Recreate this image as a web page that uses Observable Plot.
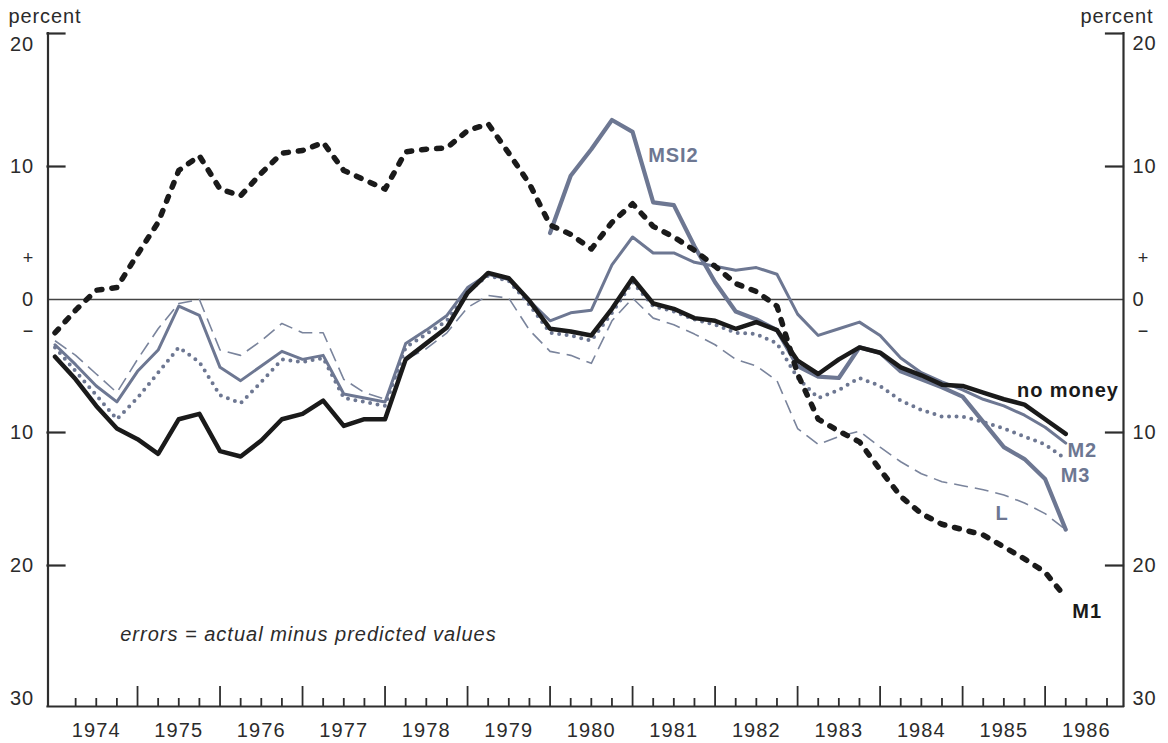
<!DOCTYPE html>
<html><head><meta charset="utf-8">
<script src="https://cdn.jsdelivr.net/npm/d3@7"></script>
<script src="https://cdn.jsdelivr.net/npm/@observablehq/plot@0.6"></script>
<style>
html,body{margin:0;padding:0;background:#fff;}
#chart svg text{letter-spacing:0.9px;}
#chart svg g[aria-description="caption"] text{letter-spacing:1.0px;}
#chart svg g[aria-description="years"] text{letter-spacing:1.1px;}
</style></head><body><div id="chart"></div>
<script>
// ---- data (quarterly errors, percent; actual minus predicted) ----
const quarters = d3.range(50).map(k => 1974 + k / 4); // 1974Q1 ... 1986Q2
const noMoney = [-4.3,-6.0,-8.0,-9.7,-10.5,-11.6,-9.0,-8.6,-11.4,-11.8,
  -10.6,-9.0,-8.6,-7.6,-9.5,-9.0,-9.0,-4.5,-3.3,-2.1,
  0.5,2.0,1.6,-0.1,-2.2,-2.4,-2.7,-0.7,1.6,-0.3,
  -0.7,-1.4,-1.6,-2.2,-1.7,-2.3,-4.6,-5.6,-4.5,-3.6,
  -4.0,-5.1,-5.7,-6.4,-6.5,-7.0,-7.5,-7.9,-9.0,-10.1];
const m1 = [-2.5,-0.8,0.7,0.9,3.4,5.8,9.7,10.8,8.3,7.8,
  9.5,11.0,11.2,11.8,9.7,9.0,8.3,11.1,11.3,11.4,
  12.7,13.2,11.0,8.7,5.6,4.9,3.8,5.8,7.2,5.5,
  4.7,3.7,2.5,1.2,0.6,-0.5,-5.6,-9.0,-9.9,-10.7,
  -12.8,-14.8,-16.1,-16.9,-17.3,-17.7,-18.6,-19.5,-20.5,-22.4];
const m2 = [-3.4,-4.9,-6.5,-7.7,-5.4,-3.8,-0.5,-1.2,-5.1,-6.1,
  -5.0,-3.9,-4.5,-4.2,-7.1,-7.4,-7.7,-3.3,-2.3,-1.2,
  0.9,1.9,1.5,-0.1,-1.6,-1.0,-0.8,2.6,4.7,3.5,
  3.5,2.8,2.5,2.2,2.4,1.9,-1.1,-2.7,-2.2,-1.7,
  -2.7,-4.4,-5.5,-6.2,-6.8,-7.5,-8.0,-8.7,-9.6,-10.8];
const m3 = [-3.6,-5.4,-7.2,-9.0,-7.4,-5.5,-3.6,-4.7,-7.2,-7.8,
  -6.2,-4.5,-4.7,-4.4,-7.4,-7.7,-8.0,-3.6,-2.6,-1.6,
  0.6,1.8,1.4,-0.4,-2.5,-2.7,-3.1,-1.0,1.3,-0.5,
  -0.9,-1.5,-1.9,-2.5,-2.6,-3.3,-5.9,-7.4,-6.8,-5.9,
  -6.5,-7.6,-8.3,-8.8,-8.8,-9.2,-9.7,-10.3,-10.9,-12.0];
const lAgg = [-3.1,-4.2,-5.6,-7.0,-4.5,-2.2,-0.3,0.0,-3.8,-4.2,
  -3.1,-1.8,-2.5,-2.5,-6.0,-7.0,-7.5,-4.5,-3.7,-2.5,
  -0.6,0.3,0.1,-2.3,-3.9,-4.2,-4.8,-1.6,0.1,-1.4,
  -1.9,-2.6,-3.4,-4.5,-5.0,-6.1,-9.7,-10.9,-10.3,-9.9,
  -11.1,-12.2,-13.1,-13.7,-14.0,-14.3,-14.7,-15.3,-16.1,-17.3];
const msi2Start = 24; // 1980Q1
const msi2 = [5.0,9.3,11.3,13.5,12.6,7.3,7.1,4.0,1.3,-0.9,
  -1.5,-2.3,-5.0,-5.8,-5.9,-3.6,-4.0,-5.4,-6.0,-6.6,
  -7.3,-9.2,-11.1,-12.0,-13.5,-17.3];

const yearLabels = [1974,1975,1976,1977,1978,1979,1980,1981,1982,1983,1984,1985,1986];
const majorTicks = [1975,1976,1977,1978,1979,1980,1981,1982,1983,1984,1985,1986];
const minorTicks = d3.range(1, 52).map(k => 1974 + k / 4).filter(t => t % 1 !== 0);
const yTickVals = [20, 10, -10, -20];
const yLabelVals = [10, 0, -10, -20, -30];
const signs = [{v: 3.1, s: "+"}, {v: -2.4, s: "\u2212"}];
const seriesLabels = [
  {name: "MSI2", t: 1981.19, v: 10.8, kind: "gray"},
  {name: "no money", t: 1985.66, v: -6.84, kind: "black"},
  {name: "M2", t: 1986.27, v: -11.35, kind: "gray"},
  {name: "M3", t: 1986.19, v: -13.23, kind: "gray"},
  {name: "L", t: 1985.40, v: -16.1, kind: "gray"},
  {name: "M1", t: 1986.33, v: -23.46, kind: "black"}
];
const caption = [{text: "errors = actual minus predicted values", t: 1974.79, v: -25.2}];

// ---- layout ----
const W = 1168, H = 743;
const mL = 47.5, mR = 45, mT = 33, mB = 37;
const xDomain = [1973.915, 1986.95];
const yDomain = [-30.6, 20];
const pxX = (W - mL - mR) / (xDomain[1] - xDomain[0]);
const pxY = (H - mT - mB) / (yDomain[1] - yDomain[0]);
const gray = "#6d7792", grayL = "#7a849c", black = "#1a1a1a", axisC = "#2e2e2e";

const rows = (vals, start = 0) => vals.map((v, i) => ({t: quarters[start + i], v}));

const chart = Plot.plot({
  width: W, height: H,
  marginLeft: mL, marginRight: mR, marginTop: mT, marginBottom: mB,
  x: {domain: xDomain, axis: null},
  y: {domain: yDomain, axis: null},
  style: {fontFamily: "'Liberation Sans', Arial, sans-serif", fontSize: "20px", color: "#2b2b2b", background: "#fff", overflow: "visible"},
  marks: [
    // zero line
    Plot.ruleY([0], {stroke: "#444", strokeWidth: 1.4}),
    // frame: left, right, bottom
    Plot.ruleX([xDomain[0], xDomain[1]], {y1: yDomain[0], y2: yDomain[1], stroke: axisC, strokeWidth: 2.2, strokeLinecap: "square"}),
    Plot.ruleY([yDomain[0]], {stroke: axisC, strokeWidth: 2.2, strokeLinecap: "square"}),
    // inward y ticks
    Plot.ruleY(yTickVals, {x1: xDomain[0], x2: xDomain[0] + 17 / pxX, stroke: axisC, strokeWidth: 2.2, strokeLinecap: "square"}),
    Plot.ruleY(yTickVals, {x1: xDomain[1] - 17 / pxX, x2: xDomain[1], stroke: axisC, strokeWidth: 2.2, strokeLinecap: "square"}),
    // x ticks
    Plot.ruleX(minorTicks, {y1: yDomain[0], y2: yDomain[0] + 8 / pxY, stroke: axisC, strokeWidth: 1.8}),
    Plot.ruleX(majorTicks, {y1: yDomain[0], y2: yDomain[0] + 20 / pxY, stroke: axisC, strokeWidth: 1.8}),
    // year labels
    Plot.text(yearLabels, {x: d => d + 0.5, y: yDomain[0], dy: 24, text: d => String(d), ariaDescription: "years"}),
    // y labels
    Plot.text([20], {x: xDomain[0], y: d => d, dx: -14, dy: 11, text: d => String(Math.abs(d)), textAnchor: "end"}),
    Plot.text(yLabelVals, {x: xDomain[0], y: d => d, dx: -14, text: d => String(Math.abs(d)), textAnchor: "end"}),
    Plot.text([20], {x: xDomain[1], y: d => d, dx: 9, dy: 10, text: d => String(Math.abs(d)), textAnchor: "start"}),
    Plot.text(yLabelVals, {x: xDomain[1], y: d => d, dx: 9, text: d => String(Math.abs(d)), textAnchor: "start"}),
    Plot.text(signs, {x: xDomain[0], y: "v", text: "s", dx: -19.5, fontSize: 18, textAnchor: "middle"}),
    Plot.text(signs, {x: xDomain[1], y: "v", text: "s", dx: 20, fontSize: 18, textAnchor: "middle"}),
    Plot.text(["percent"], {x: xDomain[0], y: yDomain[1], dx: -39.5, dy: -17, text: d => d, textAnchor: "start"}),
    Plot.text(["percent"], {x: xDomain[1], y: yDomain[1], dx: 30, dy: -17, text: d => d, textAnchor: "end"}),
    // series
    Plot.line(rows(lAgg), {x: "t", y: "v", stroke: grayL, strokeWidth: 1.6, strokeDasharray: "14,7", strokeLinecap: "butt"}),
    Plot.line(rows(m3), {x: "t", y: "v", stroke: gray, strokeWidth: 4, strokeDasharray: "0,7.5", strokeLinecap: "round"}),
    Plot.line(rows(m2), {x: "t", y: "v", stroke: gray, strokeWidth: 3}),
    Plot.line(rows(msi2, msi2Start), {x: "t", y: "v", stroke: gray, strokeWidth: 4.2}),
    Plot.line(rows(m1), {x: "t", y: "v", stroke: black, strokeWidth: 5.5, strokeDasharray: "5,10", strokeLinecap: "round"}),
    Plot.line(rows(noMoney), {x: "t", y: "v", stroke: black, strokeWidth: 4.5}),
    // labels
    Plot.text(seriesLabels, {x: "t", y: "v", text: "name", textAnchor: "start", fontWeight: "bold",
      fill: d => d.kind === "gray" ? gray : black}),
    Plot.text(caption, {x: "t", y: "v", text: "text", textAnchor: "start", fontStyle: "italic", ariaDescription: "caption"})
  ]
});
document.getElementById("chart").appendChild(chart);
</script></body></html>
